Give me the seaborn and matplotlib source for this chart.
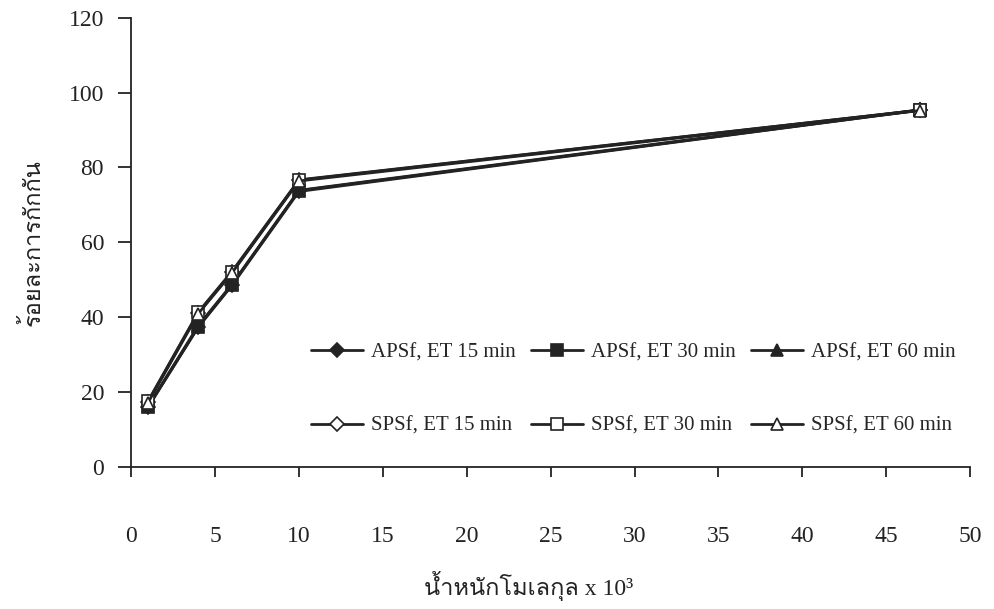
import matplotlib
matplotlib.use("Agg")
import matplotlib.pyplot as plt
from matplotlib import font_manager
from matplotlib.ft2font import FT2Font
import seaborn as sns
import pandas as pd

# Molecular weight (x 10^3) of the marker proteins
mw = [1, 4, 6, 10, 47]

# Percent rejection for each membrane / etching time
apsf_15 = [16.0, 37.5, 48.6, 73.8, 95.3]
apsf_30 = [16.0, 37.4, 48.5, 73.6, 95.3]
apsf_60 = [16.2, 37.8, 48.8, 73.9, 95.4]
spsf_15 = [17.4, 41.2, 52.0, 76.6, 95.3]
spsf_30 = [17.6, 41.4, 52.2, 76.7, 95.3]
spsf_60 = [17.2, 41.0, 51.8, 76.4, 95.2]

series_names = ["APSf, ET 15 min", "APSf, ET 30 min", "APSf, ET 60 min",
                "SPSf, ET 15 min", "SPSf, ET 30 min", "SPSf, ET 60 min"]
series_vals = [apsf_15, apsf_30, apsf_60, spsf_15, spsf_30, spsf_60]

x_label = "น้ำหนักโมเลกุล x 10³"
y_label = "ร้อยละการกักกัน"


def find_font_with(ch):
    for f in font_manager.fontManager.ttflist:
        try:
            ft = FT2Font(f.fname)
            if ft.get_char_index(ord(ch)):
                return f.name
        except Exception:
            continue
    return None


thai_font = find_font_with("ก")
serif = "Liberation Serif"
ink = "#232323"

sns.set_theme(style="ticks")
plt.rcParams["font.family"] = [serif] + ([thai_font] if thai_font else []) + ["DejaVu Sans"]

rows = []
for name, vals in zip(series_names, series_vals):
    for x, y in zip(mw, vals):
        rows.append({"mw": x, "rejection": y, "series": name})
df = pd.DataFrame(rows)

fig = plt.figure(figsize=(9.94, 6.09), dpi=100)
ax = fig.add_axes([0.132, 0.233, 0.844, 0.738])

markers = {"15": "D", "30": "s", "60": "^"}
msize = {"15": 7, "30": 9, "60": 9}
for name in series_names:
    key = name.split()[-2]
    filled = name.startswith("APSf")
    sub = df[df["series"] == name]
    sns.lineplot(data=sub, x="mw", y="rejection", ax=ax, color=ink,
                 linewidth=2.0, marker=markers[key], markersize=msize[key],
                 markerfacecolor=ink if filled else "white",
                 markeredgecolor=ink, markeredgewidth=1.2,
                 label=name, estimator=None)

ax.set_xlim(0, 50)
ax.set_ylim(0, 120)
ax.set_xticks(range(0, 51, 5))
ax.set_yticks(range(0, 121, 20))
sns.despine(ax=ax)
for s in ("left", "bottom"):
    ax.spines[s].set_color(ink)
    ax.spines[s].set_linewidth(1.3)
ax.tick_params(axis="x", direction="out", length=7.5, width=1.3, pad=35,
               labelsize=17, colors=ink)
ax.tick_params(axis="y", direction="out", length=9.5, width=1.3, pad=10,
               labelsize=17, colors=ink)
ax.set_xlabel(x_label, fontsize=17, color=ink)
ax.set_ylabel(y_label, fontsize=17, color=ink)
ax.xaxis.set_label_coords(0.474, -0.232)
ax.yaxis.set_label_coords(-0.103, 0.5)

h, l = ax.get_legend_handles_labels()
order = [0, 3, 1, 4, 2, 5]
ax.legend([h[i] for i in order], [l[i] for i in order], ncol=3, frameon=False,
          loc="center left", bbox_to_anchor=(311 / 994, 0.361),
          bbox_transform=fig.transFigure, fontsize=15,
          handlelength=2.5, handletextpad=0.4, columnspacing=0.7,
          labelspacing=2.6, borderpad=0, borderaxespad=0)

fig.savefig("out.png", dpi=100)
